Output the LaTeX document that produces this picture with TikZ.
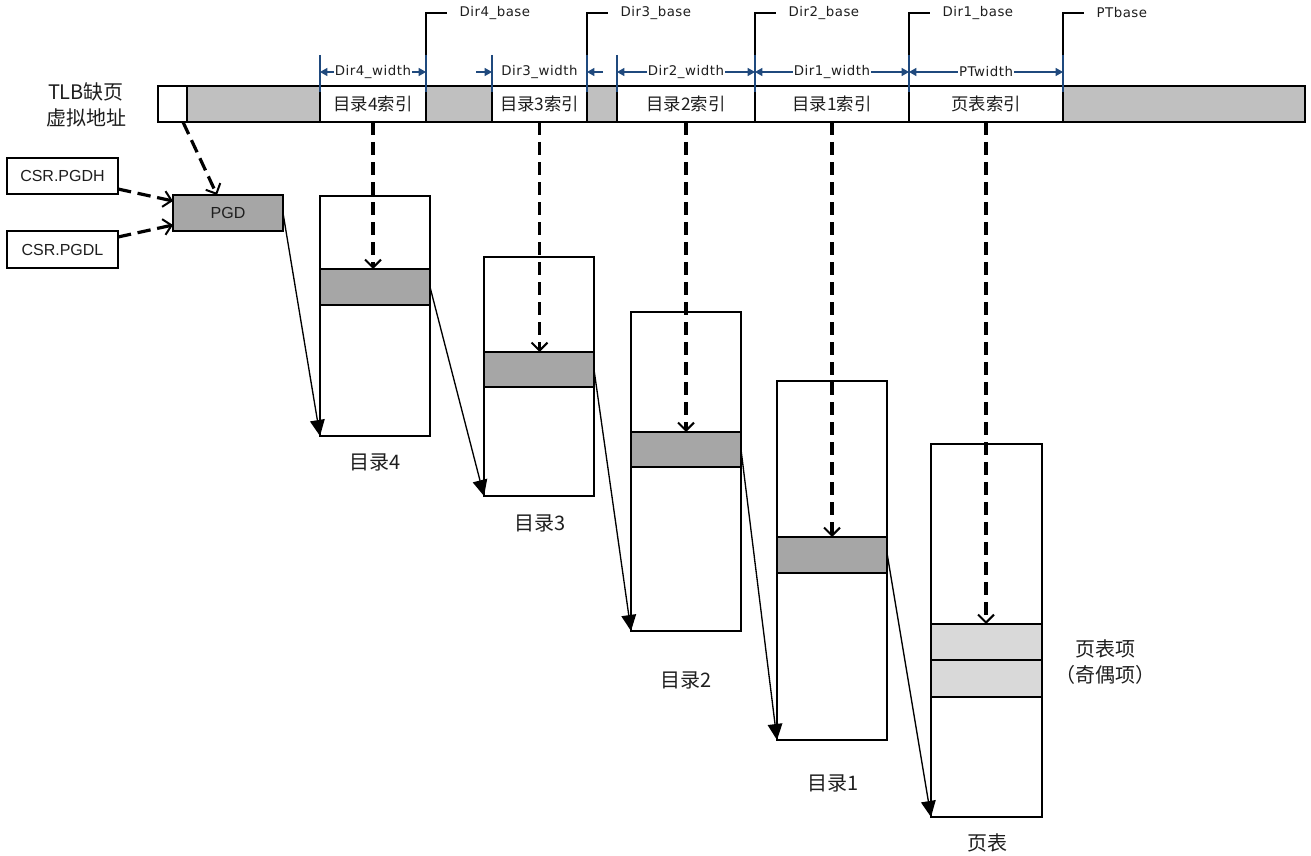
\documentclass[tikz,border=0pt]{standalone}
\usepackage{fontspec}
\setmainfont{Noto Sans CJK SC}
\newfontfamily\arialf{Liberation Sans}
\newfontfamily\dimf[LetterSpace=4]{DejaVu Sans}
\usetikzlibrary{arrows.meta,fit,calc}
\definecolor{dimblue}{RGB}{31,73,125}
\definecolor{bargray}{RGB}{192,192,192}
\definecolor{entgray}{RGB}{166,166,166}
\definecolor{ptgray}{RGB}{217,217,217}
\definecolor{txt}{RGB}{30,30,30}
\newcommand\cellnode[6]{\node[cell,#6,fit={(#2,#3) (#4,#5)}] (#1) {};}
\begin{document}
\begin{tikzpicture}[x=0.75pt,y=-0.75pt,
  cell/.style={draw=black, line width=1.4pt, inner sep=0pt, outer sep=0pt},
  bartext/.style={font=\fontsize{13}{15}\selectfont, text=txt},
  bigtext/.style={font=\fontsize{15}{18}\selectfont, text=txt},
  arialtext/.style={font=\arialf\fontsize{12}{14}\selectfont, text=txt},
  dimtext/.style={font=\dimf\fontsize{10}{11}\selectfont, text=txt},
  dasharrow/.style={line width=2.4pt, dash pattern=on 10pt off 5pt, -{Straight Barb[length=6pt,width=12pt,line width=1.5pt]}},
  solidarrow/.style={line width=1pt, -{Triangle[length=12pt,width=11pt]}},
  baselbl/.style={line width=0.8pt, black},
  dimtick/.style={line width=1.1pt, dimblue},
  dimline/.style={line width=0.9pt, dimblue},
  dimlabel/.style={dimtext, fill=white, inner sep=1pt}
]
\useasboundingbox (0,0) rectangle (1311,856);

% address bar
\cellnode{seg0}{158}{86}{187}{122}{fill=white}
\cellnode{seg1}{187}{86}{320}{122}{fill=bargray}
\cellnode{idx4}{320}{86}{426}{122}{fill=white, label={[bartext]center:目录4索引}}
\cellnode{seg2}{426}{86}{492}{122}{fill=bargray}
\cellnode{idx3}{492}{86}{587}{122}{fill=white, label={[bartext]center:目录3索引}}
\cellnode{seg3}{587}{86}{617}{122}{fill=bargray}
\cellnode{idx2}{617}{86}{755}{122}{fill=white, label={[bartext]center:目录2索引}}
\cellnode{idx1}{755}{86}{909}{122}{fill=white, label={[bartext]center:目录1索引}}
\cellnode{idxpt}{909}{86}{1063}{122}{fill=white, label={[bartext]center:页表索引}}
\cellnode{seg4}{1063}{86}{1305}{122}{fill=bargray}

\node[bigtext, align=center, inner sep=0pt] (tlb) at (86,105) {TLB缺页\\[1pt]虚拟地址};

% base labels
\draw[baselbl] (idx4.north east) -- ++(0,-73) -- ++(21,0) node[dimtext, anchor=west, inner sep=0pt, xshift=9pt] {Dir4\_base};
\draw[baselbl] (idx3.north east) -- ++(0,-73) -- ++(21,0) node[dimtext, anchor=west, inner sep=0pt, xshift=9pt] {Dir3\_base};
\draw[baselbl] (idx2.north east) -- ++(0,-73) -- ++(21,0) node[dimtext, anchor=west, inner sep=0pt, xshift=9pt] {Dir2\_base};
\draw[baselbl] (idx1.north east) -- ++(0,-73) -- ++(21,0) node[dimtext, anchor=west, inner sep=0pt, xshift=9pt] {Dir1\_base};
\draw[baselbl] (idxpt.north east) -- ++(0,-73) -- ++(21,0) node[dimtext, anchor=west, inner sep=0pt, xshift=9pt] {PTbase};

% dimension ticks
\foreach \n/\a in {idx4/north west, idx4/north east, idx3/north west, idx3/north east, idx2/north west, idx1/north west, idxpt/north west, idxpt/north east}
  \draw[dimtick] ($(\n.\a)+(0,-31)$) -- ($(\n.\a)+(0,6)$);

% dimension arrows
\draw[dimline, {Triangle[length=5.5pt,width=6pt]}-{Triangle[length=5.5pt,width=6pt]}] ($(idx4.north west)+(0,-14)$) -- ($(idx4.north east)+(0,-14)$) node[midway, dimlabel] (w4) {Dir4\_width};
\draw[dimline, -{Triangle[length=5.5pt,width=6pt]}] ($(idx3.north west)+(-16,-14)$) -- ($(idx3.north west)+(0,-14)$);
\draw[dimline, -{Triangle[length=5.5pt,width=6pt]}] ($(idx3.north east)+(16,-14)$) -- ($(idx3.north east)+(0,-14)$);
\node[dimlabel] (w3) at ($(idx3.north)+(0,-14)$) {Dir3\_width};
\draw[dimline, {Triangle[length=5.5pt,width=6pt]}-{Triangle[length=5.5pt,width=6pt]}] ($(idx2.north west)+(0,-14)$) -- ($(idx2.north east)+(0,-14)$) node[midway, dimlabel] (w2) {Dir2\_width};
\draw[dimline, {Triangle[length=5.5pt,width=6pt]}-{Triangle[length=5.5pt,width=6pt]}] ($(idx1.north west)+(0,-14)$) -- ($(idx1.north east)+(0,-14)$) node[midway, dimlabel] (w1) {Dir1\_width};
\draw[dimline, {Triangle[length=5.5pt,width=6pt]}-{Triangle[length=5.5pt,width=6pt]}] ($(idxpt.north west)+(0,-14)$) -- ($(idxpt.north east)+(0,-14)$) node[midway, dimlabel] (wpt) {PTwidth};

% CSR boxes and PGD
\cellnode{csrh}{7}{158}{118}{194}{fill=white, label={[arialtext]center:CSR.PGDH}}
\cellnode{csrl}{7}{231}{118}{268}{fill=white, label={[arialtext]center:CSR.PGDL}}
\cellnode{pgd}{173}{195}{283}{231}{fill=entgray, label={[arialtext]center:PGD}}

% directories
\cellnode{dir4}{320}{196}{430}{436}{fill=white}
\cellnode{e4}{320}{269}{430}{305}{fill=entgray}
\cellnode{dir3}{484}{257}{594}{496}{fill=white}
\cellnode{e3}{484}{352}{594}{387}{fill=entgray}
\cellnode{dir2}{631}{312}{741}{631}{fill=white}
\cellnode{e2}{631}{432}{741}{467}{fill=entgray}
\cellnode{dir1}{777}{381}{887}{740}{fill=white}
\cellnode{e1}{777}{537}{887}{573}{fill=entgray}
\cellnode{pt}{931}{444}{1042}{817}{fill=white}
\cellnode{pe1}{931}{624}{1042}{660}{fill=ptgray}
\cellnode{pe2}{931}{660}{1042}{697}{fill=ptgray}

% labels
\node[bigtext] (l4) at (375,462) {目录4};
\node[bigtext] (l3) at (540,523) {目录3};
\node[bigtext] (l2) at (686,680) {目录2};
\node[bigtext] (l1) at (833,783) {目录1};
\node[bigtext] (lpt) at (987,843) {页表};
\node[bigtext] (lpe) at (1105,649) {页表项};
\node[bigtext] (lpe2) at (1105,675) {（奇偶项）};

% dashed arrows
\draw[dasharrow] ($(seg0.south)+(10.5,0)$) -- ($(pgd.north)+(-11,0)$);
\draw[dasharrow] ($(csrh.east)+(0,13)$) -- ($(pgd.west)+(0,-12)$);
\draw[dasharrow] ($(csrl.east)+(0,-12.5)$) -- ($(pgd.west)+(0,12)$);
\draw[dasharrow] (idx4.south) -- (idx4.south |- e4.north);
\draw[dasharrow] (idx3.south) -- (idx3.south |- e3.north);
\draw[dasharrow] (idx2.south) -- (idx2.south |- e2.north);
\draw[dasharrow] (idx1.south) -- (idx1.south |- e1.north);
\draw[dasharrow] (idxpt.south) -- (idxpt.south |- pe1.north);

% solid arrows
\draw[solidarrow] (pgd.east) -- (dir4.south west);
\draw[solidarrow] (e4.east) -- (dir3.south west);
\draw[solidarrow] (e3.east) -- (dir2.south west);
\draw[solidarrow] (e2.east) -- (dir1.south west);
\draw[solidarrow] ($(e1.east)+(0,-2)$) -- (pt.south west);
\end{tikzpicture}
\end{document}
